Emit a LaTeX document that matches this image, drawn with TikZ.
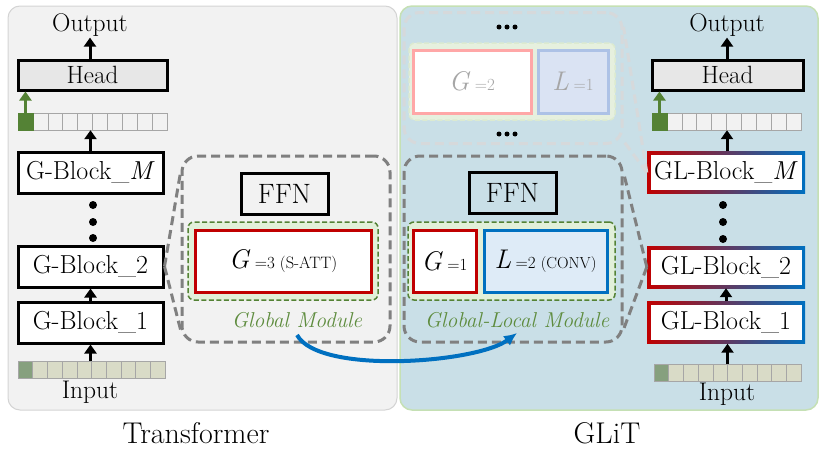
\documentclass[tikz,border=0pt]{standalone}
\usepackage{fontspec}
\usetikzlibrary{arrows.meta,calc}
\newcommand\myfs[1]{\fontsize{#1}{#1}\selectfont}
\definecolor{bgL}{HTML}{F2F2F2}
\definecolor{bdL}{HTML}{D4D4D4}
\definecolor{bgR}{HTML}{C9DFE7}
\definecolor{bdR}{HTML}{C5E0B4}
\definecolor{grn}{HTML}{548235}
\definecolor{grntxt}{HTML}{5E8C3E}
\definecolor{grnfill}{HTML}{E2F0D9}
\definecolor{redc}{HTML}{C00000}
\definecolor{bluc}{HTML}{0070C0}
\definecolor{blufill}{HTML}{DEEBF7}
\definecolor{dgray}{HTML}{808080}
\definecolor{cellgray}{HTML}{F2F2F2}
\definecolor{cellbd}{HTML}{A6A6A6}
\definecolor{inpcell}{HTML}{D9DBC7}
\definecolor{inpfirst}{HTML}{86A07E}
\definecolor{headfill}{HTML}{E7E7E7}
\definecolor{fadebd}{HTML}{D6D9DB}
\definecolor{fgrnfill}{HTML}{E6F0DE}
\definecolor{fgrnbd}{HTML}{DCEAD0}
\definecolor{fredbd}{HTML}{FFA7A7}
\definecolor{fblufill}{HTML}{DAE3F3}
\definecolor{fblubd}{HTML}{ADC2E6}
\definecolor{ftext}{HTML}{A6A6A6}
\begin{document}
\begin{tikzpicture}[x=1pt,y=-1pt,
  txt/.style={inner sep=1pt, font=\myfs{25.5}},
  blk/.style={draw=black, line width=3pt, fill=white, minimum width=145pt, minimum height=41pt, inner sep=0pt, font=\myfs{26}},
  glblk/.style={minimum width=158pt, minimum height=42pt, inner sep=0pt, font=\myfs{26},
    left color=redc, right color=bluc,
    path picture={\fill[white] ($(path picture bounding box.south west)+(3.5pt,3.5pt)$) rectangle ($(path picture bounding box.north east)+(-3.5pt,-3.5pt)$);}},
  headbox/.style={draw=black, line width=3pt, fill=headfill, minimum width=149pt, minimum height=30pt, inner sep=0pt, font=\myfs{25}},
  cell/.style={draw=cellbd, line width=0.6pt, fill=cellgray, minimum width=14.9pt, minimum height=17pt, inner sep=0pt},
  icell/.style={draw=cellbd, line width=0.6pt, fill=inpcell, minimum width=14.7pt, minimum height=17pt, inner sep=0pt},
  row/.style={minimum width=149pt, minimum height=17pt, inner sep=0pt},
  arr/.style={line width=3pt, -{Triangle[width=12pt,length=9pt]}},
  garr/.style={draw=grn, line width=3pt, -{Triangle[width=12pt,length=9pt]}},
  dotn/.style={circle, fill=black, minimum size=8pt, inner sep=0pt},
  sdot/.style={circle, fill=black, minimum size=5pt, inner sep=0pt},
  modbox/.style={draw=dgray, line width=3pt, dash pattern=on 9pt off 5pt, rounded corners=16pt, inner sep=0pt},
  modline/.style={draw=dgray, line width=3pt, dash pattern=on 9pt off 5pt},
  fadeline/.style={draw=fadebd, line width=3pt, dash pattern=on 9pt off 5pt},
  ffn/.style={draw=black, line width=3pt, minimum width=87pt, minimum height=41pt, inner sep=0pt, font=\myfs{28}},
  gbox/.style={draw=grn, fill=grnfill, line width=1.5pt, dash pattern=on 5pt off 2.5pt, rounded corners=6pt, inner sep=0pt},
  redbox/.style={draw=redc, fill=white, line width=3pt, minimum height=62pt, inner sep=0pt},
  blubox/.style={draw=bluc, fill=blufill, line width=3pt, minimum height=62pt, inner sep=0pt},
  modlab/.style={text=grntxt, font=\myfs{21.5}\itshape, inner sep=1pt},
  title/.style={font=\myfs{30}, inner sep=1pt}
]
\useasboundingbox (0,0) rectangle (829,450);
% panels
\path[fill=bgL, draw=bdL, line width=1pt, rounded corners=12pt] (8,6) rectangle (397,410);
\path[fill=bgR, draw=bdR, line width=1.5pt, rounded corners=12pt] (400,6) rectangle (818,410);

% ---------------- left column ----------------
\node[txt] (oL) at (90,25) {Output};
\node[headbox] (hL) at (92.5,75) {Head};
\node[row] (tokL) at (92.5,121.5) {};
\foreach \i in {0,...,9} { \node[cell] (tl\i) at ({25.45+14.9*\i},121.5) {}; }
\node[cell, fill=grn, draw=grn] at (tl0) {};
\node[blk] (gbM) at (90.5,172.5) {G-Block\_\textit{M}};
\node[dotn] (dL1) at (93,205) {};
\node[dotn] (dL2) at (93,222) {};
\node[dotn] (dL3) at (93,238) {};
\node[blk] (gb2) at (90.5,266.5) {G-Block\_2};
\node[blk] (gb1) at (90.5,322.5) {G-Block\_1};
\node[row, minimum width=147pt] (inL) at (91.5,369.5) {};
\foreach \i in {0,...,9} { \node[icell] (il\i) at ({25.35+14.7*\i},369.5) {}; }
\node[icell, fill=inpfirst] at (il0) {};
\node[txt] (iL) at (90,392) {Input};
\draw[arr] (hL.north -| oL.south) -- (oL.south);
\draw[garr] (tl0.north) -- (tl0.north |- hL.south);
\draw[arr] (gbM.north) -- (gbM.north |- tokL.south);
\draw[arr] (gb1.north) -- (gb2.south);
\draw[arr] (inL.north -| gb1.south) -- (gb1.south);

% ---------------- left module ----------------
\node[modbox, minimum width=208pt, minimum height=186pt] (mbL) at (286,249) {};
\draw[modline] (gb2.east) -- ($(mbL.north west)+(0,18)$);
\draw[modline] (gb2.east) -- ($(mbL.south west)+(0,-14)$);
\node[ffn] (ffL) at (284.5,193.5) {FFN};
\node[gbox, minimum width=190pt, minimum height=78pt] (gL) at (283,261) {};
\node[redbox, minimum width=176pt] (rL) at (283,261) {\myfs{27}\textit{G}\,\myfs{17}=3\ \myfs{16.5}(S-ATT)};
\node[modlab] (gm) at (297,320) {Global Module};

% ---------------- right: faded module ----------------
\node[modbox, draw=fadebd, minimum width=218pt, minimum height=131pt] (fb) at (513,78) {};
\foreach \i in {0,1,2} { \node[sdot] (ft\i) at ({499+8*\i},27) {}; \node[sdot] (fbt\i) at ({499+8*\i},134) {}; }
\node[gbox, draw=fgrnbd, fill=fgrnfill, minimum width=206pt, minimum height=77pt] (fg) at (512,81.5) {};
\node[redbox, draw=fredbd, minimum width=118pt, minimum height=63pt, text=ftext] (fr) at (472,81.5) {\myfs{27}\textit{G}\,\myfs{17}=2};
\node[blubox, draw=fblubd, fill=fblufill, minimum width=70pt, minimum height=63pt, text=ftext] (fl) at (573,81.5) {\myfs{27}\textit{L}\,\myfs{17}=1};

% ---------------- right module ----------------
\node[modbox, minimum width=218pt, minimum height=186pt] (mbR) at (513,249) {};
\node[ffn] (ffR) at (512.5,192.5) {FFN};
\node[gbox, minimum width=207pt, minimum height=78pt] (gR) at (511.5,261) {};
\node[redbox, minimum width=63pt] (rR) at (444.5,261) {\myfs{27}\textit{G}\,\myfs{17}=1};
\node[blubox, minimum width=123pt] (bR) at (545.5,261) {\myfs{27}\textit{L}\,\myfs{17}=2\ \myfs{16}(CONV)};
\node[modlab] (glm) at (517,320) {Global-Local Module};

% ---------------- right column ----------------
\node[txt] (oR) at (727,25) {Output};
\node[headbox, minimum width=151pt] (hR) at (727.5,75) {Head};
\node[row, minimum width=150pt] (tokR) at (727,121.5) {};
\foreach \i in {0,...,9} { \node[cell] (tr\i) at ({659.45+14.9*\i},121.5) {}; }
\node[cell, fill=grn, draw=grn] at (tr0) {};
\node[glblk] (glbM) at (726,172.5) {GL-Block\_\textit{M}};
\node[dotn] (dR1) at (723,205) {};
\node[dotn] (dR2) at (723,222) {};
\node[dotn] (dR3) at (723,239) {};
\node[glblk] (glb2) at (726,267) {GL-Block\_2};
\node[glblk] (glb1) at (726,322.5) {GL-Block\_1};
\node[row, minimum width=148pt] (inR) at (727.5,372.5) {};
\foreach \i in {0,...,9} { \node[icell] (ir\i) at ({661.35+14.7*\i},372.5) {}; }
\node[icell, fill=inpfirst] at (ir0) {};
\node[txt] (iR) at (727,394) {Input};
\draw[arr] (hR.north -| oR.south) -- (oR.south);
\draw[garr] (tr0.north) -- (tr0.north |- hR.south);
\draw[arr] (glbM.north -| tokR.south) -- (tokR.south);
\draw[arr] (glb1.north) -- (glb2.south);
\draw[arr] (inR.north) -- (inR.north |- glb1.south);

% connectors to GL blocks
\draw[modline] (glb2.west) -- ($(mbR.north east)+(0,18)$);
\draw[modline] (glb2.west) -- ($(mbR.south east)+(0,-14)$);
\draw[fadeline] (glbM.west) -- ($(fb.north east)+(0,16)$);
\draw[fadeline] (glbM.west) -- ($(fb.south east)+(0,-4)$);

% blue transfer arrow
\draw[draw=bluc, line width=4pt, -{Latex[length=13pt,width=12pt]}] ([yshift=-6pt]gm.south) .. controls +(22,40) and +(-40,30) .. ([yshift=-4pt]glm.south);

% titles
\node[title] (tT) at (196,433) {Transformer};
\node[title] (tG) at (607,433) {GLiT};
\end{tikzpicture}
\end{document}
